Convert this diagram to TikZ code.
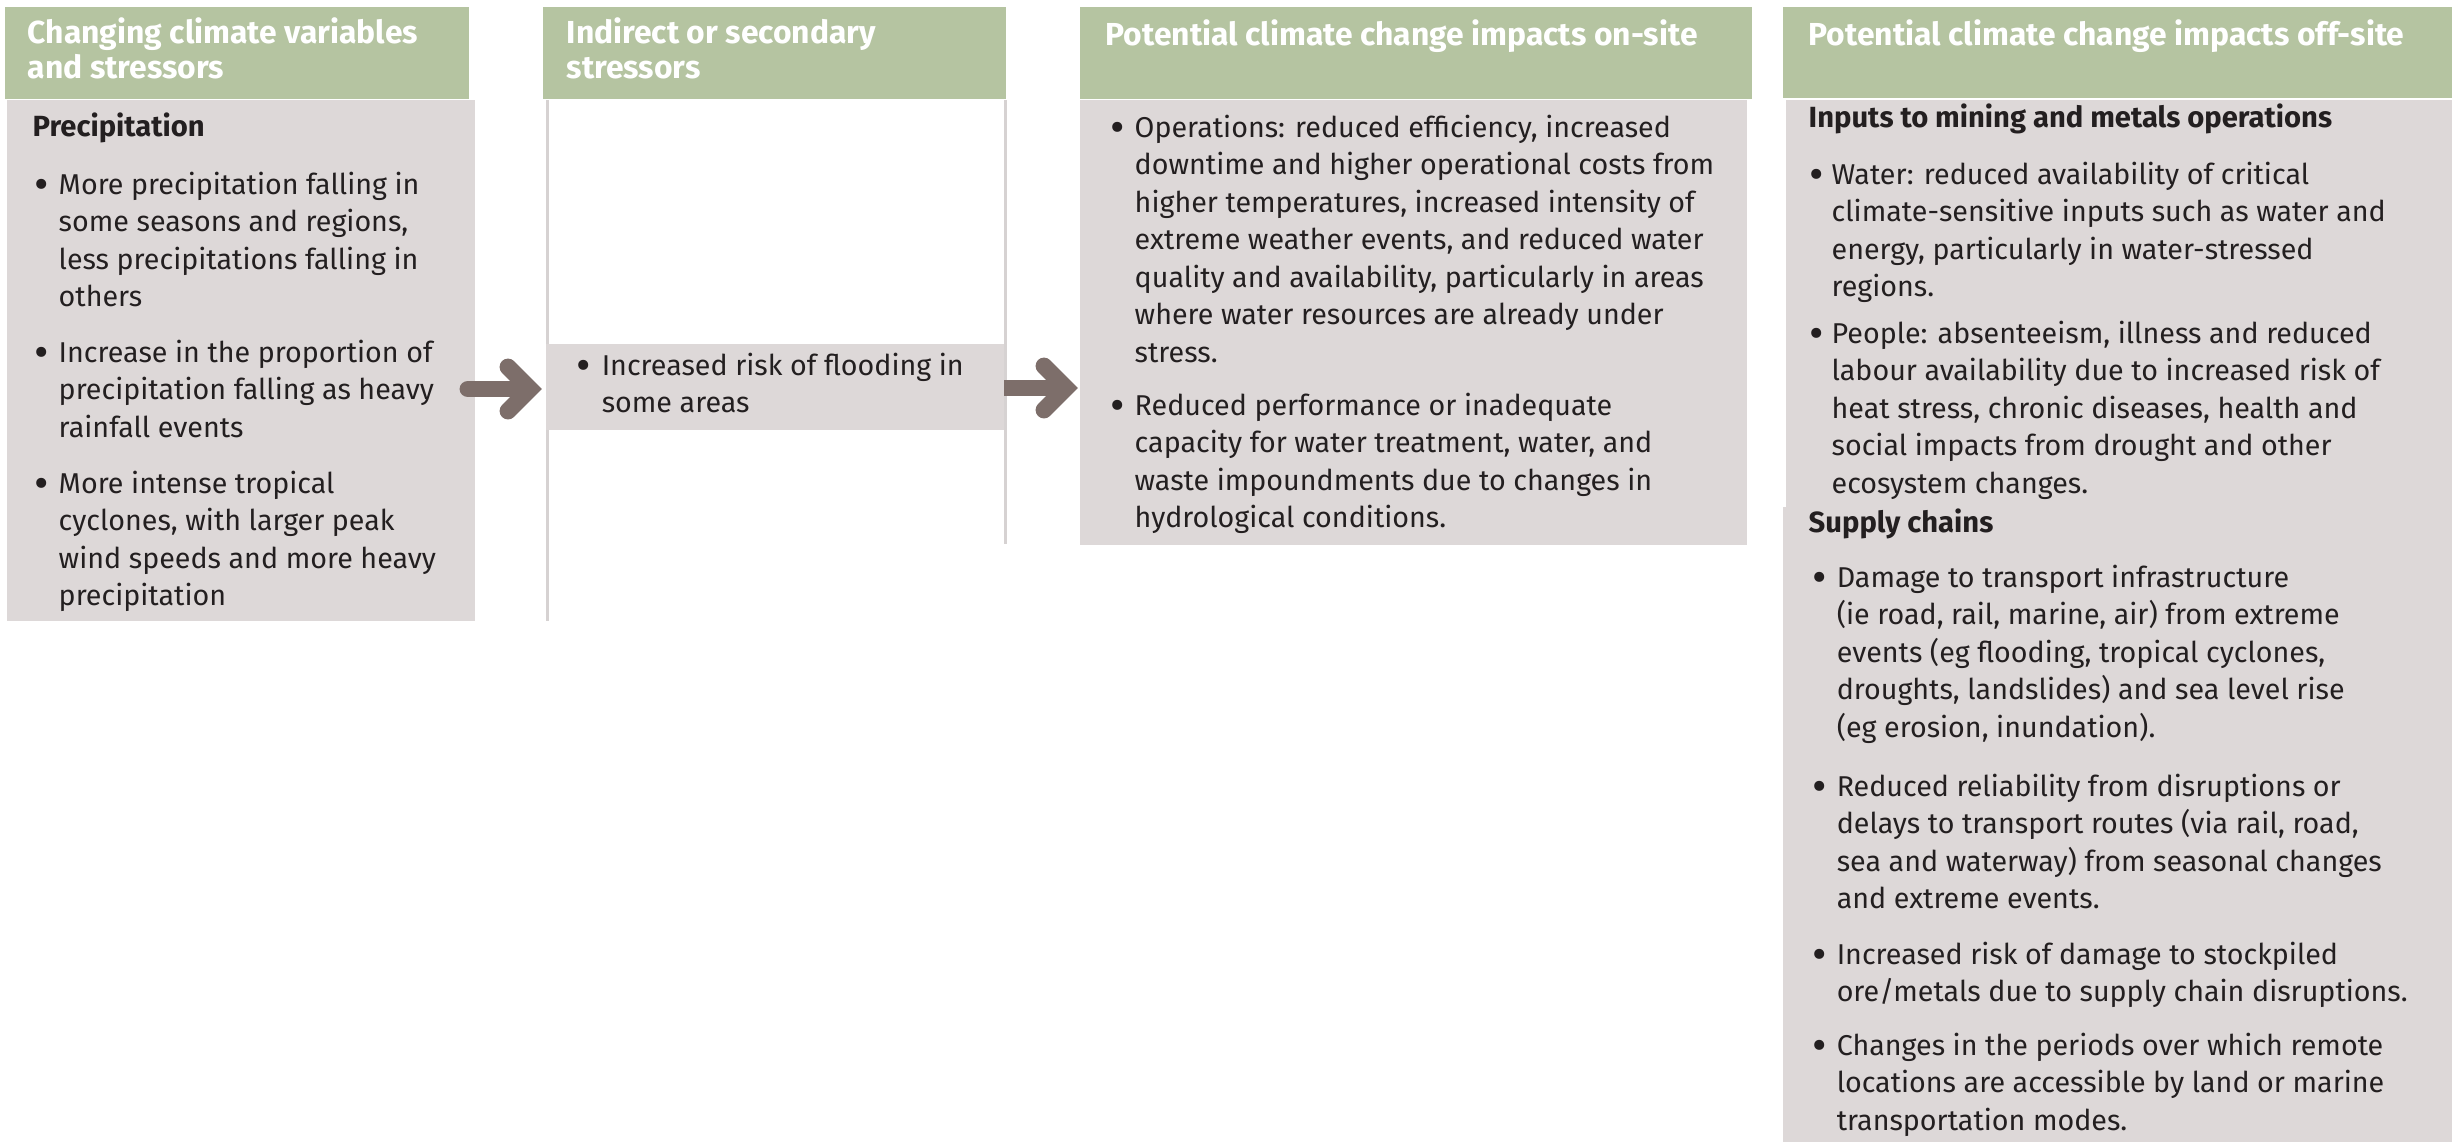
\documentclass[tikz,border=0pt]{standalone}
\usepackage{fontspec}
\setmainfont{Fira Sans}
\usetikzlibrary{calc}
\definecolor{hdr}{RGB}{181,196,161}
\definecolor{bodyg}{RGB}{221,216,216}
\definecolor{arr}{RGB}{125,110,106}
\definecolor{txt}{RGB}{35,31,32}
\definecolor{vline}{RGB}{214,210,210}
\newcommand\bodyfont{\fontsize{8.15}{10.67}\selectfont}
\newcommand\hdrfont{\fontsize{9.05}{9.96}\selectfont\bfseries}
\newcommand\subfont{\fontsize{8.3}{10.67}\selectfont\bfseries}
\newcommand\bdot{\raisebox{-1.6pt}{\scalebox{1.55}{•}}}
\newcommand\blt[2]{\makebox[#1][l]{\hspace{0.4pt}\bdot}\begin{tabular}[t]{@{}l@{}}#2\end{tabular}}
\newcommand\lns[1]{\begin{tabular}[t]{@{}l@{}}#1\end{tabular}}
\tikzset{
 hdrbox/.style={fill=hdr, inner sep=0, outer sep=0, anchor=north west},
 graybox/.style={fill=bodyg, inner sep=0, outer sep=0, anchor=north west},
 txtnode/.style={anchor=base west, inner sep=0, text=txt, font=\bodyfont},
 subnode/.style={anchor=base west, inner sep=0, text=txt, font=\subfont},
 hdrtext/.style={anchor=base west, inner sep=0, text=white, font=\hdrfont},
 fat/.style={draw=arr, line width=4.8pt, line cap=round},
 vl/.style={draw=vline, line width=0.85pt},
}
\begin{document}
\begin{tikzpicture}[x=0.01cm,y=-0.01cm]
\useasboundingbox[fill=white] (0,0) rectangle (2452,1142);
% boxes
\node[hdrbox, minimum width=4.64cm, minimum height=0.92cm] (h1) at (5,7) {};
\node[graybox, minimum width=4.68cm, minimum height=5.21cm] (b1) at (7,100) {};
\node[hdrbox, minimum width=4.63cm, minimum height=0.92cm] (h2) at (543,7) {};
\draw[vl] (547,100) -- (547,621);
\draw[vl] (1005,100) -- (1005,544);
\node[graybox, minimum width=4.58cm, minimum height=0.86cm] (band2) at (546,344) {};
\node[hdrbox, minimum width=6.72cm, minimum height=0.92cm] (h3) at (1080,7) {};
\node[graybox, minimum width=6.67cm, minimum height=4.45cm] (b3) at (1080,100) {};
\node[hdrbox, minimum width=6.69cm, minimum height=0.91cm] (h4) at (1783,7) {};
\node[graybox, minimum width=6.66cm, minimum height=4.07cm] (b4a) at (1786,100) {};
\node[graybox, minimum width=6.69cm, minimum height=6.35cm] (b4b) at (1783,507) {};
% arrows
\coordinate (a1s) at (468,389);
\coordinate (a1e) at (524,389);
\coordinate (a1t) at (530,389);
\draw[fat] (a1s) -- (a1e);
\draw[fat, line join=miter] ($(a1t)+(-22,-22)$) -- (a1t) -- ($(a1t)+(-22,22)$);
\coordinate (a2s) at (1004,388);
\coordinate (a2e) at (1060,388);
\coordinate (a2t) at (1066,388);
\draw[fat, line cap=butt] (a2s) -- (a2e);
\draw[fat, line join=miter] ($(a2t)+(-22,-22)$) -- (a2t) -- ($(a2t)+(-22,22)$);
% column 1
\node[hdrtext] (h1t) at (27,43) {\lns{Changing climate variables\\and stressors}};
\node[subnode] (c1s) at (32,136) {Precipitation};
\node[txtnode] (c1a) at (32,194) {\blt{7.4pt}{More precipitation falling in\\some seasons and regions,\\less precipitations falling in\\others}};
\node[txtnode] (c1b) at (32,362) {\blt{7.4pt}{Increase in the proportion of\\precipitation falling as heavy\\rainfall events}};
\node[txtnode] (c1c) at (32,493) {\blt{7.4pt}{More intense tropical\\cyclones, with larger peak\\wind speeds and more heavy\\precipitation}};
% column 2
\node[hdrtext] (h2t) at (566,43) {\lns{Indirect or secondary\\stressors}};
\node[txtnode] (c2a) at (574,375) {\blt{7.7pt}{Increased risk of flooding in\\some areas}};
% column 3
\node[hdrtext] (h3t) at (1105,45) {Potential climate change impacts on-site};
\node[txtnode] (c3a) at (1108,137) {\blt{7.4pt}{Operations: reduced efficiency, increased\\downtime and higher operational costs from\\higher temperatures, increased intensity of\\extreme weather events, and reduced water\\quality and availability, particularly in areas\\where water resources are already under\\stress.}};
\node[txtnode] (c3b) at (1108,415) {\blt{7.4pt}{Reduced performance or inadequate\\capacity for water treatment, water, and\\waste impoundments due to changes in\\hydrological conditions.}};
% column 4
\node[hdrtext] (h4t) at (1808,45) {Potential climate change impacts off-site};
\node[subnode] (c4s1) at (1808,127) {Inputs to mining and metals operations};
\node[txtnode] (c4a) at (1807,184) {\blt{6.8pt}{Water: reduced availability of critical\\climate-sensitive inputs such as water and\\energy, particularly in water-stressed\\regions.}};
\node[txtnode] (c4b) at (1807,343) {\blt{6.8pt}{People: absenteeism, illness and reduced\\labour availability due to increased risk of\\heat stress, chronic diseases, health and\\social impacts from drought and other\\ecosystem changes.}};
\node[subnode] (c4s2) at (1808,532) {Supply chains};
\node[txtnode] (c4c) at (1810,587) {\blt{7.4pt}{Damage to transport infrastructure\\(ie road, rail, marine, air) from extreme\\events (eg flooding, tropical cyclones,\\droughts, landslides) and sea level rise\\(eg erosion, inundation).}};
\node[txtnode] (c4d) at (1810,796) {\blt{7.4pt}{Reduced reliability from disruptions or\\delays to transport routes (via rail, road,\\sea and waterway) from seasonal changes\\and extreme events.}};
\node[txtnode] (c4e) at (1810,964) {\blt{7.4pt}{Increased risk of damage to stockpiled\\ore/metals due to supply chain disruptions.}};
\node[txtnode] (c4f) at (1810,1055) {\blt{7.4pt}{Changes in the periods over which remote\\locations are accessible by land or marine\\transportation modes.}};
\end{tikzpicture}
\end{document}
